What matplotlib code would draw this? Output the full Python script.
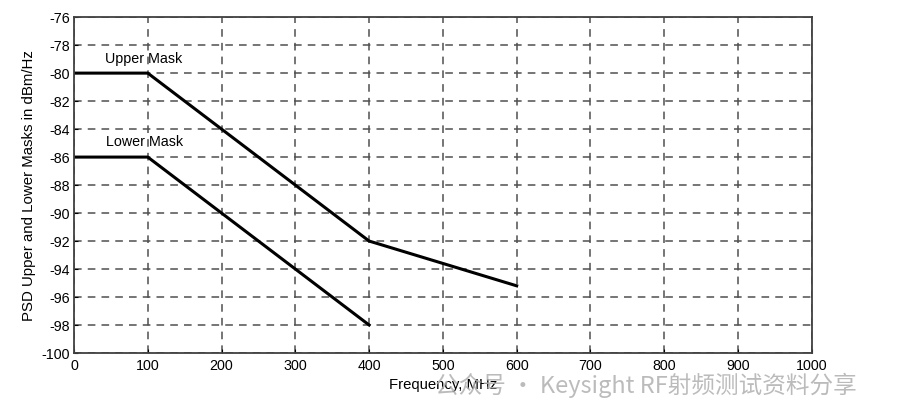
import matplotlib
matplotlib.use("Agg")
import matplotlib.pyplot as plt
import numpy as np

# mask break points
upper_freq = [0, 100, 400, 600]
upper_psd = [-80, -80, -92, -95.2]
lower_freq = [0, 100, 400]
lower_psd = [-86, -86, -98]

x_ticks = np.arange(0, 1001, 100)
y_ticks = np.arange(-100, -75, 2)

plt.rcParams['font.family'] = ['Liberation Sans', 'DejaVu Sans']
plt.rcParams['axes.unicode_minus'] = False

fig = plt.figure(figsize=(8.99, 4.18), dpi=100)
ax = fig.add_axes([0.0823, 0.1555, 0.8207, 0.8035])

ax.plot(upper_freq, upper_psd, color='black', lw=2.2, solid_joinstyle='round')
ax.plot(lower_freq, lower_psd, color='black', lw=2.2, solid_joinstyle='round')

ax.text(95, -79.0, 'Upper Mask', fontsize=10.3, ha='center', va='center')
ax.text(95, -84.95, 'Lower Mask', fontsize=10.3, ha='center', va='center')

ax.set_xlim(0, 1000)
ax.set_ylim(-100, -76)
ax.set_xticks(x_ticks)
ax.set_yticks(y_ticks)
ax.tick_params(labelsize=10.3, length=3, direction='in', pad=3)
ax.tick_params(axis='x', pad=4)
ax.grid(True, color='#505050', linestyle=(0, (5, 4)), lw=1.1)
for s in ax.spines.values():
    s.set_color('#404040')
    s.set_linewidth(1.3)

ax.set_xlabel('Frequency, MHz', fontsize=10.7, labelpad=4)
ax.set_ylabel('PSD Upper and Lower Masks in dBm/Hz', fontsize=10.8, labelpad=4)

# watermark
fig.text(0.484, 0.079, '公众号 · Keysight RF射频测试资料分享', fontsize=17,
         color='#b0b0b0', ha='left', va='center', alpha=0.85,
         family=['Noto Sans CJK SC', 'DejaVu Sans'])

fig.savefig('out.png', dpi=100)
